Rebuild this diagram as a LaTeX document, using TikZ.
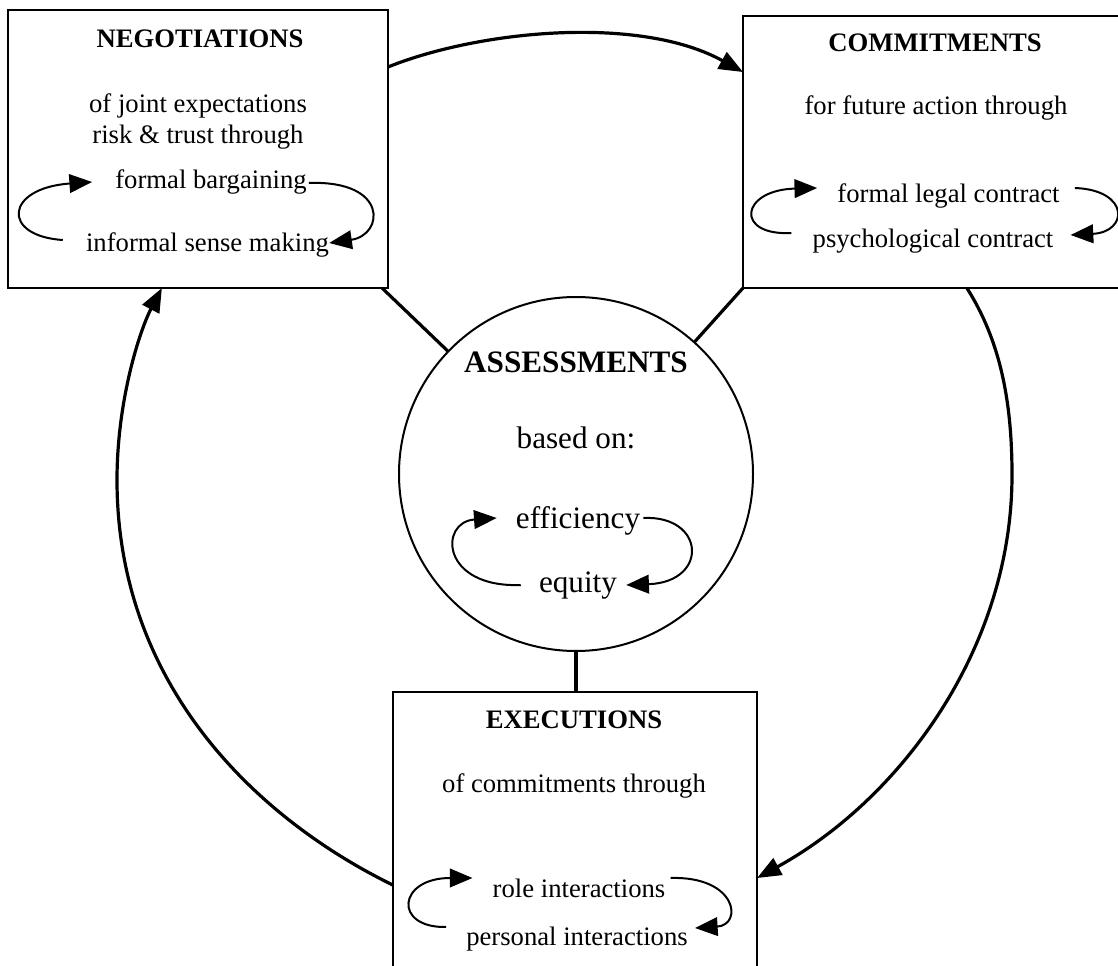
\documentclass[tikz,border=0pt]{standalone}
\usepackage{fontspec}
\setmainfont{Liberation Serif}
\usetikzlibrary{arrows.meta,calc}

\tikzset{
  box/.style={draw, line width=1.5pt, inner sep=0pt, outer sep=0pt},
  circ/.style={draw, circle, line width=1.5pt, inner sep=0pt, outer sep=0pt},
  txt/.style={anchor=base, inner sep=0pt, font=\fontsize{20pt}{24pt}\selectfont},
  head/.style={txt, font=\fontsize{20pt}{24pt}\selectfont\bfseries},
  ctxt/.style={anchor=base, inner sep=0pt, font=\fontsize{23.4pt}{28pt}\selectfont},
  chead/.style={ctxt, font=\fontsize{23.4pt}{28pt}\selectfont\bfseries},
  flow/.style={line width=2.4pt, -{Triangle[length=18pt,width=14pt]}},
  link/.style={line width=2.4pt},
  cycle/.style={line width=1.5pt, -{Triangle[length=17pt,width=14pt]}},
}

\begin{document}
\begin{tikzpicture}[x=0.75pt,y=-0.75pt]
  \useasboundingbox (0,0) rectangle (1118,966);
  \fill[white] (0,0) rectangle (1118,966);

  % the four stages
  \node[box, minimum width=285pt, minimum height=208.5pt] (neg) at (198,149) {};
  \node[box, minimum width=286.5pt, minimum height=204pt] (com) at (934,152) {};
  \node[box, minimum width=273pt, minimum height=231pt] (exe) at (575,846) {};
  \node[circ, fill=white, minimum size=265.5pt] (ass) at (576,474) {};

  % negotiations
  \node[head] (negT) at (200,48) {NEGOTIATIONS};
  \node[txt] (negA) at (198,113) {of joint expectations};
  \node[txt] (negB) at (198,144) {risk \& trust through};
  \node[txt] (fb) at (211,189) {formal bargaining};
  \node[txt] (inf) at (207.5,252) {informal sense making};

  % commitments
  \node[head] (comT) at (935,52) {COMMITMENTS};
  \node[txt] (comA) at (936,115) {for future action through};
  \node[txt] (flc) at (948.5,203) {formal legal contract};
  \node[txt] (pc) at (933,248) {psychological contract};

  % assessments
  \node[chead] (assT) at (576,373) {ASSESSMENTS};
  \node[ctxt] (assA) at (576,448) {based on:};
  \node[ctxt] (eff) at (578,528) {efficiency};
  \node[ctxt] (eq) at (578,592) {equity};

  % executions
  \node[head] (exeT) at (574,728) {EXECUTIONS};
  \node[txt] (exeA) at (574,792) {of commitments through};
  \node[txt] (ri) at (579,897) {role interactions};
  \node[txt] (pi) at (577,945) {personal interactions};

  % small cycles inside each stage
  \draw[cycle] ($(inf.base west)+(-23,-12)$) .. controls +(-62,-4) and +(-87,6) .. ($(fb.base west)+(-23,-7)$);
  \draw[cycle] ($(fb.base east)+(2,-6)$) .. controls +(80,-3) and +(55,-8) .. ($(inf.base east)+(0,-9)$);

  \draw[cycle] ($(pc.base west)+(-21,-15)$) .. controls +(-57,3) and +(-77,2) .. ($(flc.base west)+(-20,-15)$);
  \draw[cycle] ($(flc.base east)+(15,-15)$) .. controls +(55,2) and +(58,-3) .. ($(pc.base east)+(17,-13)$);

  \draw[cycle] ($(eq.base west)+(-18,-7)$) .. controls +(-80,3) and +(-58,4) .. ($(eff.base west)+(-19,-10)$);
  \draw[cycle] ($(eff.base east)+(3,-10)$) .. controls +(62,-3) and +(83,-3) .. ($(eq.base east)+(9,-7)$);

  \draw[cycle] ($(pi.base west)+(-20,-18)$) .. controls +(-53,1) and +(-75,0) .. ($(ri.base west)+(-20,-19)$);
  \draw[cycle] ($(ri.base east)+(5,-19)$) .. controls +(67,-2) and +(48,-3) .. ($(pi.base east)+(7,-17)$);

  % links to the central assessments
  \draw[link] ($(neg.south east)+(-6,0)$) -- (ass);
  \draw[link] (com.south west) -- (ass);
  \draw[link] (ass.south) -- (ass.south |- exe.north);

  % the outer cycle
  \draw[flow] ($(neg.north east)!0.205!(neg.south east)$)
    .. controls +(92,-37) and +(-103,-57) .. ($(com.north west)!0.206!(com.south west)$);
  \draw[flow] ($(com.south west)!0.586!(com.south east)$)
    .. controls +(33,52) and +(0,-75) .. (1012,475)
    .. controls +(0,175) and +(142,-78) .. ($(exe.north east)!0.604!(exe.south east)$);
  \draw[flow] ($(exe.north west)!0.627!(exe.south west)$)
    .. controls +(-143,-70) and +(0,200) .. (117,480)
    .. controls +(0,-80) and +(-22,42) .. ($(neg.south west)!0.405!(neg.south east)$);
\end{tikzpicture}
\end{document}
